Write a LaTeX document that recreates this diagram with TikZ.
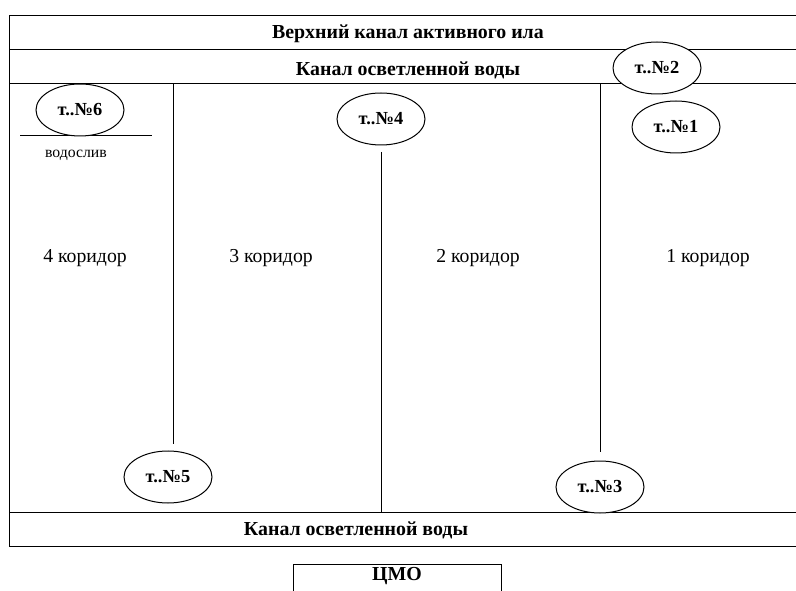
\documentclass[tikz,border=0pt]{standalone}
\usepackage{fontspec}
\setmainfont{Liberation Serif}
\usetikzlibrary{shapes.geometric}

\tikzset{
  point/.style={draw, fill=white, ellipse, minimum width=66pt, minimum height=39pt,
                inner sep=0pt, font=\bfseries\fontsize{13.8}{15}\selectfont},
  channel/.style={font=\bfseries\fontsize{14.9}{17}\selectfont},
  corridor/.style={font=\fontsize{14.8}{17}\selectfont},
}

\begin{document}
\begin{tikzpicture}[x=0.75pt, y=-0.75pt, line width=0.75pt]
  \useasboundingbox (0,0) rectangle (796,591);

  % --- channels: upper sludge channel, clarified water channels ---
  \draw (796,16) -- (9,16) -- (9,546) -- (796,546);
  \draw (9,50) -- (796,50);
  \draw (9,84) -- (796,84);
  \draw (9,512) -- (796,512);
  \node[channel] (upper) at (408,34) {Верхний канал активного ила};
  \node[channel] (clearTop) at (408,70) {Канал осветленной воды};
  \node[channel] (clearBot) at (356,530) {Канал осветленной воды};

  % --- corridor walls ---
  \draw (173,84) -- (173,444);
  \draw (381,152) -- (381,512);
  \draw (600,84) -- (600,452);

  \node[corridor] (cor4) at (85,258) {4 коридор};
  \node[corridor] (cor3) at (271,258) {3 коридор};
  \node[corridor] (cor2) at (478,258) {2 коридор};
  \node[corridor] (cor1) at (708,258) {1 коридор};

  % --- weir in corridor 4 ---
  \draw (20,136) -- (152,136);
  \node[font=\fontsize{11.8}{13}\selectfont] (weir) at (76,155) {водослив};

  % --- sampling points ---
  \node[point] (p1) at (676,127) {т..№1};
  \node[point] (p2) at (657,68) {т..№2};
  \node[point] (p3) at (600,487) {т..№3};
  \node[point] (p4) at (381,119) {т..№4};
  \node[point] (p5) at (168,477) {т..№5};
  \node[point] (p6) at (80,110) {т..№6};

  % --- CMO block ---
  \draw (293,591) -- (293,564) -- (501,564) -- (501,591);
  \node[channel] (cmo) at (397,576) {ЦМО};
\end{tikzpicture}
\end{document}
